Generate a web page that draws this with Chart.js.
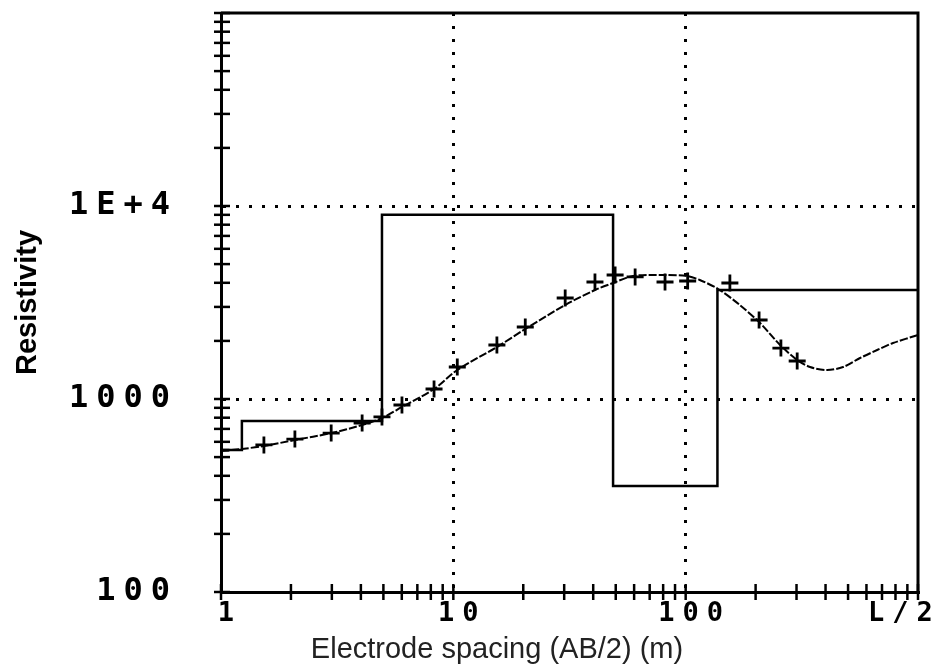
<!DOCTYPE html>
<html><head><meta charset="utf-8">
<script src="https://cdn.jsdelivr.net/npm/chart.js@4/dist/chart.umd.min.js"></script>
<style>html,body{margin:0;padding:0;background:#fff;}#wrap{width:945px;height:665px;}</style>
</head><body><div id="wrap"><canvas id="c" width="945" height="665"></canvas></div>
<script>
// Field measurements (+ markers)
const fieldSpacing = [1.0,1.53,2.08,2.98,4.05,4.93,6.01,8.26,10.4,15.4,20.4,30.3,40.7,49.7,60.6,81.5,102,155,207,257,302];
const fieldRho     = [544,578,620,666,751,807,931,1127,1465,1905,2361,3337,4038,4390,4290,4038,4087,3990,2567,1837,1574];
// Calculated (model) sounding curve
const curveSpacing = [1,1.23,1.53,2.08,2.98,4.05,4.93,6.01,8.26,10.4,15.4,20.4,30.3,40.7,48.7,59.4,81.5,101,115,138,171,209,255,302,343,406,476,563,667,781,1000];
const curveRho     = [538,551,571,613,666,733,797,909,1127,1413,1859,2305,3069,3670,3990,4339,4390,4339,4137,3715,3069,2476,1905,1592,1465,1413,1465,1631,1794,1950,2146];
// Layered model (step line): layer top depths and resistivities
const layerTops = [1,1.23,4.93,48.7,137,1000];
const layerRho  = [544,769,9000,354,3670,3670];
// Axis tick labels
const xTickLabels = {1:'1',10:'10',100:'100',800:'L/2'};
const yTickLabels = {100:'100',1000:'1000',10000:'1E+4'};
const xGridValues = [10,100];
const yGridValues = [1000,10000];
const mantissas = [1,2,3,4,5,6,7,8,9];

function logTicks(min,max){
  const out=[];
  for(let e=Math.floor(Math.log10(min)); Math.pow(10,e)<=max; e++){
    mantissas.forEach(m=>{const v=+(m*Math.pow(10,e)).toPrecision(6); if(v>=min&&v<=max) out.push({value:v});});
  }
  return out;
}
const pts=(xs,ys)=>xs.map((x,i)=>({x:x,y:ys[i]}));

const framePlugin={
  id:'framePlugin',
  afterDatasetsDraw(chart){ chart.ctx.letterSpacing='8px'; },
  afterDraw(chart){
    const ctx=chart.ctx;
    ctx.letterSpacing='0px';
    ctx.save();
    const {left,right,top,bottom}=chart.chartArea;
    ctx.strokeStyle='#000'; ctx.setLineDash([]); ctx.lineWidth=3;
    ctx.beginPath(); ctx.moveTo(left,top); ctx.lineTo(right,top); ctx.lineTo(right,bottom); ctx.stroke();
    const xs=chart.scales.x, ys=chart.scales.y;
    ctx.lineWidth=2.5;
    xs.ticks.forEach(t=>{const p=xs.getPixelForValue(t.value); ctx.beginPath(); ctx.moveTo(p,bottom-8); ctx.lineTo(p,bottom+8); ctx.stroke();});
    ys.ticks.forEach(t=>{const p=ys.getPixelForValue(t.value); ctx.beginPath(); ctx.moveTo(left-7,p); ctx.lineTo(left+9,p); ctx.stroke();});
    ctx.font='29px "Liberation Sans", Arial, sans-serif';
    ctx.fillStyle='#222'; ctx.textAlign='center'; ctx.textBaseline='alphabetic';
    ctx.fillText('Electrode spacing (AB/2) (m)',497,658);
    ctx.restore();
  }
};

new Chart(document.getElementById('c'),{
  type:'line',
  data:{datasets:[
    {label:'Model',data:pts(layerTops,layerRho),stepped:'before',borderColor:'#000',borderWidth:2.5,pointRadius:0,fill:false},
    {label:'Calculated',data:pts(curveSpacing,curveRho),borderColor:'#000',borderWidth:2,borderDash:[8,2],pointRadius:0,tension:0.3,fill:false},
    {label:'Field data',data:pts(fieldSpacing,fieldRho),showLine:false,pointStyle:'cross',pointRadius:8.5,pointBorderWidth:2.8,borderColor:'#000',backgroundColor:'#000'}
  ]},
  options:{
    responsive:false,animation:false,devicePixelRatio:1,
    layout:{padding:{top:13,right:27,left:0,bottom:0}},
    plugins:{legend:{display:false},tooltip:{enabled:false}},
    scales:{
      x:{type:'logarithmic',min:1,max:1000,position:'bottom',
        afterBuildTicks:s=>{s.ticks=logTicks(1,1000);},
        afterFit:s=>{s.height=73;s.paddingLeft=0;s.paddingRight=0;},
        grid:{drawTicks:false,lineWidth:3,color:c=>xGridValues.includes(c.tick&&c.tick.value)?'#000':'rgba(0,0,0,0)'},
        border:{display:true,color:'#000',width:3,dash:[3,10]},
        ticks:{autoSkip:false,maxRotation:0,padding:6,z:1,color:'#000',labelOffset:9,
          font:{family:'"DejaVu Sans Mono", monospace',weight:'bold',size:27},
          callback:v=>xTickLabels[v]||''},
        title:{display:false}
      },
      y:{type:'logarithmic',min:100,max:100000,position:'left',
        afterBuildTicks:s=>{s.ticks=logTicks(100,100000);},
        afterFit:s=>{s.width=221;s.paddingTop=0;s.paddingBottom=0;},
        grid:{drawTicks:false,lineWidth:3,color:c=>yGridValues.includes(c.tick&&c.tick.value)?'#000':'rgba(0,0,0,0)'},
        border:{display:true,color:'#000',width:3,dash:[3,10]},
        ticks:{autoSkip:false,padding:43,z:1,color:'#000',
          font:{family:'"DejaVu Sans Mono", monospace',weight:'bold',size:32},
          callback:v=>yTickLabels[v]||''},
        title:{display:true,text:'Resistivity',color:'#000',padding:{top:11,bottom:0},
          font:{family:'"Liberation Sans", Arial, sans-serif',weight:'bold',size:29}}
      }
    }
  },
  plugins:[framePlugin]
});
</script></body></html>
